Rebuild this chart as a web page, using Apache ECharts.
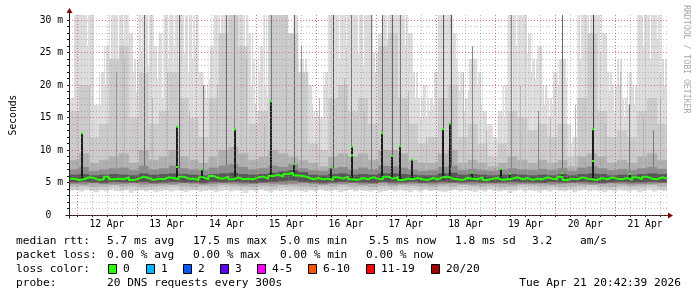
<!DOCTYPE html>
<html><head><meta charset="utf-8">
<script src="https://cdn.jsdelivr.net/npm/echarts@6/dist/echarts.min.js"></script>
<style>html,body{margin:0;padding:0;background:#fff}#c{width:697px;height:297px}</style>
</head><body><div id="c"></div><script>
// time axis: hours relative to 12 Apr 00:00
const T_START = -3.2, T_END = 236.8;
const dayLabels = ['12 Apr','13 Apr','14 Apr','15 Apr','16 Apr','17 Apr','18 Apr','19 Apr','20 Apr','21 Apr'];
const dayLabelHours = [12,36,60,84,108,132,156,180,204,228];
const majorHours = [0,24,48,72,96,120,144,168,192,216];
const minorHours = [0,6,12,18,24,30,36,42,48,54,60,66,72,78,84,90,96,102,108,114,120,126,132,138,144,150,156,162,168,174,180,186,192,198,204,210,216,222,228,234];
const yLabelValues = [0,5,10,15,20,25,30];
const yTickLabels = ['0  ','5 m','10 m','15 m','20 m','25 m','30 m'];
const yMinorValues = [0,1,2,3,4,5,6,7,8,9,10,11,12,13,14,15,16,17,18,19,20,21,22,23,24,25,26,27,28,29,30];

// outer smoke (2 h bins, ms)
const outerTop = [18,31,31,31,31,17,22,26,31,31, 31,31,28,24,31,31,31,26,28,31,
  31,31,31,31,31,31,22,20,26,31, 31,31,31,31,31,31,28,24,26,31,
  31,31,31,28,26,31,24,24,20,16, 15,22,31,31,31,31,31,31,31,31,
  31,25,28,31,31,31,31,31,28,22, 18,20,18,22,31,31,31,28,22,18,
  24,24,22,16,14,12,16,20,31,31, 31,31,28,24,26,20,18,22,24,24,
  14,12,31,31,31,31,31,28,22,20, 24,18,22,20,31,31,31,31,31,24];
const outerBottom = [3.7,3.8,3.6,3.9,3.7,3.5,3.8,3.6,3.9,3.7, 3.6,3.8,3.4,3.7,3.9,3.6,3.8,3.5,3.7,3.9,
  3.6,3.8,3.7,3.5,3.8,3.9,3.6,3.7,3.8,3.5, 3.7,3.9,3.6,3.8,3.7,3.4,3.8,3.6,3.9,3.7,
  3.5,3.8,3.7,3.9,3.6,3.8,3.7,3.5,3.8,3.6, 3.9,3.7,3.6,3.8,3.5,3.7,3.9,3.6,3.8,3.7,
  3.6,3.8,3.5,3.7,3.9,3.6,3.8,3.7,3.5,3.8, 3.6,3.9,3.7,3.8,3.6,3.5,3.7,3.9,3.6,3.8,
  3.7,3.5,3.8,3.6,3.9,3.7,3.6,3.8,3.4,3.7, 3.9,3.6,3.8,3.7,3.5,3.8,3.6,3.9,3.7,3.6,
  3.8,3.5,3.7,3.9,3.6,3.8,3.7,3.5,3.8,3.6, 3.9,3.7,3.6,3.8,3.5,3.7,3.9,3.6,3.8,3.7];
// inner smoke layers (4 h bins, ms)
const band2Top = [16,20,12,14,24,26,15,22,14,16, 22,18,15,12,18,28,31,26,14,16,
  31,31,28,22,11,10,18,20,16,18, 14,26,28,18,14,11,12,18,20,12,
  14,11,9,11,16,15,13,14,12,14, 9,18,28,16,12,13,12,16,18,14];
const band2Bottom = [4.0,4.1,3.9,4.0,4.2,4.0,4.1,3.9,4.0,4.1, 4.2,4.0,3.9,4.1,4.0,4.2,4.1,4.0,3.9,4.1,
  4.0,4.2,4.1,4.0,3.9,4.1,4.0,4.2,4.0,4.1, 3.9,4.1,4.0,4.2,4.1,4.0,3.9,4.1,4.0,4.2,
  4.1,4.0,4.1,3.9,4.0,4.2,4.1,4.0,4.1,3.9, 4.0,4.1,4.2,4.0,3.9,4.1,4.0,4.1,4.2,4.0];
const band3Top = [8.5,9.5,8,8.5,9,9.5,8,10,8.5,9, 10,9,8.5,8,9,10,10.5,9.5,8.5,9,
  10,9.5,9,8.5,8,7.5,9,9.5,9,9.5, 8.5,10,10,9.5,8.5,8,8,9.5,10,8,
  8.5,8,7.5,8,9,8.5,8,8.5,8,8.5, 7.5,9,9.5,9,8,8.5,8,9,9.5,8.5];
const band3Bottom = [4.4,4.5,4.3,4.4,4.6,4.4,4.5,4.3,4.4,4.5, 4.6,4.4,4.3,4.5,4.4,4.6,4.5,4.4,4.3,4.5,
  4.4,4.6,4.5,4.4,4.3,4.5,4.4,4.6,4.4,4.5, 4.3,4.5,4.4,4.6,4.5,4.4,4.3,4.5,4.4,4.6,
  4.5,4.4,4.5,4.3,4.4,4.6,4.5,4.4,4.5,4.3, 4.4,4.5,4.6,4.4,4.3,4.5,4.4,4.5,4.6,4.4];
const band4Top = [7.0,7.4,6.8,7.0,7.2,7.3,6.9,7.6,7.0,7.2, 7.6,7.2,7.0,6.9,7.3,7.6,7.8,7.4,7.0,7.2,
  7.6,7.4,7.8,7.2,6.9,6.8,7.2,7.4,7.0,7.3, 7.0,7.6,7.5,7.3,7.0,6.8,6.9,7.4,7.6,6.9,
  7.1,6.9,6.8,7.0,7.2,7.0,6.9,7.1,6.9,7.2, 6.8,7.3,7.5,7.2,6.9,7.1,6.9,7.2,7.4,7.1];
const band4Bottom = [4.8,4.7,4.9,4.8,4.7,4.8,4.9,4.7,4.8,4.8, 4.7,4.9,4.8,4.7,4.8,4.9,4.8,4.7,4.8,4.9,
  4.8,4.7,4.8,4.9,4.8,4.7,4.8,4.8,4.9,4.7, 4.8,4.9,4.7,4.8,4.8,4.9,4.7,4.8,4.9,4.8,
  4.7,4.8,4.9,4.8,4.7,4.8,4.8,4.9,4.7,4.8, 4.9,4.8,4.7,4.8,4.9,4.8,4.7,4.8,4.8,4.9];
const coreTop = [6.2,6.3,6.1,6.2,6.3,6.2,6.1,6.4,6.2,6.3, 6.4,6.3,6.2,6.1,6.3,6.4,6.5,6.3,6.2,6.3,
  6.5,6.7,6.9,6.6,6.2,6.1,6.3,6.4,6.2,6.3, 6.2,6.4,6.4,6.3,6.2,6.1,6.1,6.4,6.5,6.2,
  6.3,6.2,6.1,6.2,6.3,6.2,6.1,6.2,6.1,6.3, 6.1,6.3,6.4,6.3,6.1,6.2,6.1,6.3,6.4,6.3];
const coreBottom = [5.0,5.1,5.0,4.9,5.1,5.0,5.0,5.1,4.9,5.0, 5.1,5.0,5.0,4.9,5.1,5.0,5.1,5.0,4.9,5.0,
  5.1,5.2,5.3,5.1,5.0,4.9,5.0,5.1,5.0,5.0, 4.9,5.1,5.0,5.0,5.1,4.9,5.0,5.1,5.0,5.0,
  5.1,5.0,4.9,5.0,5.1,5.0,5.0,4.9,5.1,5.0, 5.0,5.1,5.0,4.9,5.0,5.1,5.0,5.0,5.1,5.0];
// median rtt (2 h bins, ms)
const median = [5.6,5.4,5.5,5.8,5.7,5.4,5.5,5.9,5.5,5.6, 5.5,5.8,5.4,5.6,5.9,5.7,5.4,5.6,5.5,5.8,
  5.7,5.5,5.9,5.6,5.6,5.4,5.8,5.5,6.0,5.7, 5.6,5.9,5.5,5.8,5.5,5.6,5.5,5.8,5.9,5.6,
  6.0,6.2,5.9,6.3,6.5,6.1,6.0,5.8,5.5,5.7, 5.5,5.6,5.4,5.8,5.6,5.9,5.5,5.4,5.7,5.5,
  5.8,5.6,5.5,5.9,5.6,5.8,5.4,5.6,5.5,5.7, 5.5,5.4,5.7,5.5,5.8,5.9,5.6,5.5,5.4,5.7,
  5.6,5.5,5.8,5.4,5.6,5.7,5.4,5.5,5.6,5.8, 5.5,5.7,5.4,5.6,5.5,5.8,5.6,5.5,5.9,5.4,
  5.6,5.5,5.8,5.6,5.5,5.4,5.7,5.5,5.8,5.6, 5.5,5.7,5.4,5.8,5.5,5.9,5.6,5.5,5.8,5.6];
// high-median spikes (hours, ms)
const spikeTimes = [2.2,40.2,50.0,63.3,78.0,87.2,102.0,110.4,122.4,126.4,129.6,134.3,146.8,149.9,158.4,170.3,173.6,194.7,207.3,222.0];
const spikeHighs = [12.6,13.6,7.0,13.2,17.5,7.8,7.3,10.5,12.6,9.1,10.6,8.5,13.2,14.1,6.5,7.1,6.3,6.4,13.2,6.3];
const spikeBases = [5.5,5.6,5.5,5.6,5.7,5.8,5.5,5.6,5.5,5.6,5.5,5.6,5.5,5.6,5.5,5.6,5.5,5.5,5.6,5.5];
const extraDotTimes = [40.2,110.4,207.3];
const extraDotValues = [7.4,9.2,8.3];
// single-column smoke streaks (hours, ms)
const streakTimes = [15.6,26.8,40.8,50.4,60.0,63.2,78.0,87.2,90.0,102.8,110.0,118.0,122.4,126.4,129.6,146.8,150.0,158.4,174.0,185.2,194.8,207.2,221.6,231.2,
  5.0,19.0,30.0,36.0,45.0,56.0,68.0,75.0,84.0,97.0,107.0,115.0,133.0,140.0,155.0,164.0,178.0,190.0,200.0,212.0,218.0,227.0,234.0];
const streakTops = [22,31,31,20,31,31,31,31,26,31,31,31,31,31,31,31,31,26,31,16,31,31,17,13,
  20,24,18,22,16,20,24,14,22,18,21,16,19,12,22,13,20,15,17,14,22,15,18];
const streakBottoms = [6.5,6.2,6.0,6.4,6.1,6.3,6.0,6.2,6.6,6.1,6.3,6.4,6.2,6.0,6.2,6.1,6.0,6.5,6.3,6.6,6.2,6.0,6.4,6.5,
  6.8,7.0,6.9,7.2,6.8,7.1,7.0,6.9,7.2,7.0,6.8,7.1,7.0,6.9,7.2,6.8,7.0,7.1,6.9,7.0,7.2,6.8,7.0];
const streakShades = ['#999','#666','#555','#777','#666','#888','#777','#666','#999','#555','#777','#777','#666','#666','#777','#555','#555','#888','#888','#888','#666','#444','#777','#777',
  '#b8b8b8','#b8b8b8','#b8b8b8','#b8b8b8','#b8b8b8','#b8b8b8','#b8b8b8','#b8b8b8','#b8b8b8','#b8b8b8','#b8b8b8','#b8b8b8','#b8b8b8','#b8b8b8','#b8b8b8','#b8b8b8','#b8b8b8','#b8b8b8','#b8b8b8','#b8b8b8','#b8b8b8','#b8b8b8','#b8b8b8'];
// white gaps in the outer smoke (hours, ms)
const gapTimes = [9.2,11.2,13.2,22.4,23.6,32.0,34.0,46.0,51.6,52.8,70.0,71.6,73.2,83.6,89.2,91.2,92.4,119.6,135.6,137.6,141.2,153.2,155.2,160.4,182.4,187.6,189.6,198.4,213.6,215.6,219.6,223.6,234.0,
  -2.0,4.0,16.4,18.4,25.6,28.4,36.4,38.8,42.8,44.4,47.2,57.6,61.2,67.6,72.4,75.6,76.4,94.4,95.6,97.2,99.2,105.2,108.0,112.8,114.8,124.4,131.6,140.0,142.8,152.0,156.8,162.0,164.4,167.6,171.2,176.0,180.8,184.0,190.8,193.2,196.4,202.0,205.6,210.0,217.6,221.2,227.2,230.0,232.8,235.6];
const gapBottoms = [17,20,24,22,19,21,18,24,18,21,20,17,22,24,19,22,18,22,18,15,16,19,16,20,22,17,15,11,19,16,15,17,22,
  19,26,24,27,25,23,24,26,25,22,26,25,27,24,16,20,18,17,15,16,20,24,26,25,23,27,26,15,17,24,19,17,14,12,15,26,25,21,17,20,21,24,27,25,20,17,26,24,27,20];

// legend texts
const statRow1 = ['median rtt:','5.7 ms avg','17.5 ms max','5.0 ms min','5.5 ms now','1.8 ms sd','3.2','am/s'];
const statRow2 = ['packet loss:','0.00 % avg','0.00 % max','0.00 % min','0.00 % now'];
const lossLabels = ['0','1','2','3','4-5','6-10','11-19','20/20'];
const lossColors = ['#26ff00','#00b8ff','#0059ff','#5e00ff','#ff00ff','#ff5500','#ff0000','#a10000'];
const probeText = ['probe:','20 DNS requests every 300s','Tue Apr 21 20:42:39 2026'];

const MONO = 'DejaVu Sans Mono';
const chart = echarts.init(document.getElementById('c'), null, {renderer: 'canvas'});

function bandSeries(tops, bottoms, color) {
  const step = (T_END - T_START) / tops.length;
  return {
    type: 'custom', silent: true, clip: true,
    renderItem(params, api) {
      const t = api.value(0), lo = api.value(1), hi = api.value(2);
      const a = api.coord([t, hi]), b = api.coord([t + step, lo]);
      return {type: 'rect', shape: {x: a[0], y: a[1], width: b[0] - a[0], height: b[1] - a[1]}, style: {fill: color}};
    },
    data: tops.map((v, i) => [T_START + i * step, bottoms[i], v])
  };
}
const medStep = (T_END - T_START) / median.length;
const medData = median.map((v, i) => [T_START + i * medStep, v]);
medData.push([T_END, median[median.length - 1]]);

const gridMinor = {show: true, lineStyle: {color: 'rgba(140,140,140,0.55)', type: [1, 2], width: 1}};
const gridMajor = {show: true, lineStyle: {color: 'rgba(240,70,70,0.55)', type: [1, 2], width: 1}};

const option = {
  animation: false,
  backgroundColor: '#ffffff',
  grid: {left: 67, right: 30, top: 15, bottom: 82, containLabel: false},
  xAxis: [
    {type: 'value', min: T_START, max: T_END, z: 10,
      axisLine: {show: true, onZero: false, lineStyle: {color: '#202020'}},
      axisTick: {show: true, customValues: minorHours, length: 2, lineStyle: {color: '#202020'}},
      axisLabel: {customValues: dayLabelHours, formatter: v => dayLabels[dayLabelHours.indexOf(v)],
        fontFamily: MONO, fontSize: 9.7, color: '#000', margin: 4},
      splitLine: gridMinor},
    {type: 'value', min: T_START, max: T_END, z: 11,
      axisLine: {show: false}, axisTick: {show: false, customValues: majorHours},
      axisLabel: {show: false}, splitLine: gridMajor}
  ],
  yAxis: [
    {type: 'value', min: 0, max: 30.8, z: 10,
      axisLine: {show: true, onZero: false, lineStyle: {color: '#202020'}},
      axisTick: {show: true, customValues: yMinorValues, length: 2, lineStyle: {color: '#202020'}},
      axisLabel: {customValues: yLabelValues, formatter: v => yTickLabels[yLabelValues.indexOf(v)],
        fontFamily: MONO, fontSize: 9.7, color: '#000', margin: 6},
      splitLine: gridMinor,
      name: 'Seconds', nameLocation: 'middle', nameRotate: 90, nameGap: 51,
      nameTextStyle: {fontFamily: MONO, fontSize: 9.7, color: '#000'}},
    {type: 'value', min: 0, max: 30.8, z: 11,
      axisLine: {show: false}, axisTick: {show: false, customValues: yLabelValues},
      axisLabel: {show: false}, splitLine: gridMajor}
  ],
  series: [
    bandSeries(outerTop, outerBottom, '#dcdcdc'),
    {type: 'custom', silent: true, clip: true,
      renderItem(params, api) {
        const a = api.coord([api.value(0), 30.8]), b = api.coord([api.value(0), api.value(1)]);
        return {type: 'rect', shape: {x: Math.round(a[0]), y: a[1], width: 1, height: b[1] - a[1]}, style: {fill: '#ffffff'}};
      },
      data: gapTimes.map((t, i) => [t, gapBottoms[i]])},
    bandSeries(band2Top, band2Bottom, '#cbcbcb'),
    bandSeries(band3Top, band3Bottom, '#b0b0b0'),
    {type: 'custom', silent: true, clip: true,
      renderItem(params, api) {
        const i = params.dataIndex;
        const a = api.coord([api.value(0), api.value(2)]), b = api.coord([api.value(0), api.value(1)]);
        return {type: 'rect', shape: {x: Math.round(a[0]), y: a[1], width: 1, height: b[1] - a[1]}, style: {fill: streakShades[i]}};
      },
      data: streakTimes.map((t, i) => [t, streakBottoms[i], streakTops[i]])},
    bandSeries(band4Top, band4Bottom, '#8c8c8c'),
    bandSeries(coreTop, coreBottom, '#555555'),
    {type: 'custom', silent: true, clip: true,
      renderItem(params, api) {
        const a = api.coord([api.value(0), api.value(2)]), b = api.coord([api.value(0), api.value(1)]);
        const x = Math.round(a[0]) - 1;
        return {type: 'group', children: [
          {type: 'rect', shape: {x: x, y: a[1], width: 2, height: b[1] - a[1]}, style: {fill: '#1c1c1c'}},
          {type: 'rect', shape: {x: x, y: a[1] - 1, width: 2, height: 2}, style: {fill: '#26ff00'}}
        ]};
      },
      data: spikeTimes.map((t, i) => [t, spikeBases[i], spikeHighs[i]])},
    {type: 'line', data: medData, step: 'end', showSymbol: false, silent: true,
      lineStyle: {color: '#26ff00', width: 2}, z: 3},
    {type: 'custom', silent: true, clip: true, z: 4,
      renderItem(params, api) {
        const a = api.coord([api.value(0), api.value(1)]);
        return {type: 'rect', shape: {x: Math.round(a[0]) - 1, y: a[1] - 1, width: 2, height: 2}, style: {fill: '#26ff00'}};
      },
      data: extraDotTimes.map((t, i) => [t, extraDotValues[i]])}
  ]
};
chart.setOption(option);

// decorations: arrows, axis extensions, watermark, legend
const pBR = chart.convertToPixel({gridIndex: 0}, [T_END, 0]);
const pTL = chart.convertToPixel({gridIndex: 0}, [T_START, 30.8]);
const xl = Math.round(pTL[0]) + 0.5, yb = Math.round(pBR[1]) + 0.5, xr = pBR[0], yt = pTL[1];
const g = [];
g.push({type: 'line', shape: {x1: xl - 4, y1: yb, x2: xl, y2: yb}, style: {stroke: '#202020', lineWidth: 1}, z: 20});
g.push({type: 'line', shape: {x1: xl, y1: yb + 3, x2: xl, y2: yb}, style: {stroke: '#202020', lineWidth: 1}, z: 20});
g.push({type: 'line', shape: {x1: xr, y1: yb, x2: xr + 2, y2: yb}, style: {stroke: '#202020', lineWidth: 1}, z: 20});
g.push({type: 'line', shape: {x1: xl, y1: yt, x2: xl, y2: yt - 3}, style: {stroke: '#202020', lineWidth: 1}, z: 20});
g.push({type: 'polygon', shape: {points: [[xr + 1, yb - 3], [xr + 1, yb + 3], [xr + 6, yb]]}, style: {fill: '#800000'}, z: 20});
g.push({type: 'polygon', shape: {points: [[xl - 3, yt - 2], [xl + 3, yt - 2], [xl, yt - 7]]}, style: {fill: '#800000'}, z: 20});
g.push({type: 'text', x: 686, y: 5, rotation: -Math.PI / 2,
  style: {text: 'RRDTOOL / TOBI OETIKER', font: '8.2px "DejaVu Sans Mono"', fill: '#a8a8a8', textAlign: 'left', textVerticalAlign: 'middle'}});
function txt(s, x, y, align) {
  g.push({type: 'text', x: x, y: y, style: {text: s, font: '11.2px "DejaVu Sans Mono"', fill: '#000', textAlign: align || 'left', textVerticalAlign: 'middle'}});
}
const row1X = [16, 107, 193, 280, 369, 455, 532, 580];
statRow1.forEach((s, i) => txt(s, row1X[i], 241));
const row2X = [16, 107, 193, 280, 366];
statRow2.forEach((s, i) => txt(s, row2X[i], 255));
txt('loss color:', 16, 269);
const boxX = [108, 146, 183, 220, 257, 308, 366, 431];
lossLabels.forEach((s, i) => {
  g.push({type: 'rect', shape: {x: boxX[i] + 0.5, y: 264.5, width: 8, height: 9}, style: {fill: lossColors[i], stroke: '#000', lineWidth: 1}});
  txt(s, boxX[i] + 15, 269);
});
txt(probeText[0], 16, 283);
txt(probeText[1], 107, 283);
txt(probeText[2], 681, 283, 'right');
chart.setOption({graphic: g});
</script></body></html>
